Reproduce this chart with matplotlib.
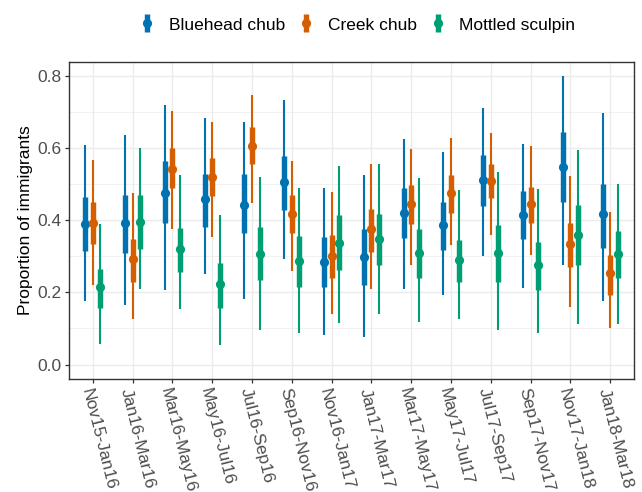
import matplotlib
matplotlib.use("Agg")
import matplotlib.pyplot as plt
from matplotlib.lines import Line2D
from matplotlib.legend_handler import HandlerTuple
import numpy as np

plt.rcParams['font.family'] = ['Liberation Sans', 'DejaVu Sans']

periods = ["Nov15-Jan16", "Jan16-Mar16", "Mar16-May16", "May16-Jul16", "Jul16-Sep16",
           "Sep16-Nov16", "Nov16-Jan17", "Jan17-Mar17", "Mar17-May17", "May17-Jul17",
           "Jul17-Sep17", "Sep17-Nov17", "Nov17-Jan18", "Jan18-Mar18"]
species = ["Bluehead chub", "Creek chub", "Mottled sculpin"]
colors = ["#0072B2", "#D55E00", "#009E73"]

# Bluehead chub
blue_med = [0.390, 0.391, 0.476, 0.458, 0.443, 0.505, 0.285, 0.298, 0.421, 0.386, 0.510, 0.415, 0.547, 0.416]
blue_lo50 = [0.315, 0.308, 0.391, 0.382, 0.363, 0.427, 0.215, 0.219, 0.351, 0.317, 0.440, 0.349, 0.451, 0.322]
blue_hi50 = [0.463, 0.469, 0.565, 0.529, 0.529, 0.579, 0.354, 0.375, 0.490, 0.451, 0.580, 0.482, 0.643, 0.500]
blue_lo95 = [0.177, 0.166, 0.206, 0.250, 0.182, 0.293, 0.081, 0.077, 0.210, 0.192, 0.301, 0.213, 0.275, 0.175]
blue_hi95 = [0.607, 0.636, 0.719, 0.684, 0.672, 0.734, 0.489, 0.525, 0.625, 0.589, 0.710, 0.611, 0.798, 0.698]

# Creek chub
creek_med = [0.391, 0.292, 0.543, 0.520, 0.606, 0.417, 0.302, 0.376, 0.444, 0.475, 0.508, 0.445, 0.334, 0.253]
creek_lo50 = [0.333, 0.229, 0.488, 0.467, 0.556, 0.365, 0.241, 0.313, 0.390, 0.421, 0.461, 0.391, 0.269, 0.194]
creek_hi50 = [0.450, 0.349, 0.599, 0.573, 0.658, 0.469, 0.358, 0.432, 0.498, 0.524, 0.556, 0.493, 0.393, 0.303]
creek_lo95 = [0.219, 0.127, 0.376, 0.354, 0.448, 0.260, 0.140, 0.210, 0.277, 0.332, 0.358, 0.303, 0.159, 0.102]
creek_hi95 = [0.566, 0.476, 0.703, 0.673, 0.747, 0.564, 0.477, 0.555, 0.596, 0.628, 0.642, 0.605, 0.522, 0.423]

# Mottled sculpin
sculpin_med = [0.215, 0.396, 0.321, 0.223, 0.307, 0.287, 0.336, 0.347, 0.310, 0.290, 0.309, 0.277, 0.359, 0.306]
sculpin_lo50 = [0.158, 0.319, 0.256, 0.157, 0.233, 0.216, 0.261, 0.277, 0.241, 0.228, 0.230, 0.206, 0.277, 0.241]
sculpin_hi50 = [0.266, 0.469, 0.378, 0.281, 0.380, 0.356, 0.413, 0.416, 0.375, 0.346, 0.386, 0.340, 0.443, 0.369]
sculpin_lo95 = [0.056, 0.209, 0.155, 0.054, 0.095, 0.087, 0.114, 0.140, 0.117, 0.127, 0.096, 0.087, 0.113, 0.113]
sculpin_hi95 = [0.389, 0.601, 0.525, 0.414, 0.519, 0.488, 0.550, 0.555, 0.516, 0.483, 0.533, 0.485, 0.594, 0.499]

series = [
    (blue_med, blue_lo50, blue_hi50, blue_lo95, blue_hi95),
    (creek_med, creek_lo50, creek_hi50, creek_lo95, creek_hi95),
    (sculpin_med, sculpin_lo50, sculpin_hi50, sculpin_lo95, sculpin_hi95),
]

fig = plt.figure(figsize=(6.42, 4.92), dpi=100)
ax = fig.add_axes([69/642, 1-379/492, (634-69)/642, (379-62)/492])

x = np.arange(len(periods))
offsets = [-0.19, 0.0, 0.19]
for (med, lo50, hi50, lo95, hi95), col, off in zip(series, colors, offsets):
    xs = x + off
    ax.vlines(xs, lo95, hi95, color=col, lw=1.5, zorder=3)
    ax.vlines(xs, lo50, hi50, color=col, lw=3.9, zorder=4)
    ax.plot(xs, med, 'o', color=col, ms=6.6, zorder=5, markeredgewidth=0)

ax.set_xlim(-0.6, len(periods) - 1 + 0.6)
ax.set_ylim(-0.04, 0.838)
ax.set_yticks([0.0, 0.2, 0.4, 0.6, 0.8])
ax.set_yticklabels(["0.0", "0.2", "0.4", "0.6", "0.8"])
ax.set_yticks([0.1, 0.3, 0.5, 0.7], minor=True)
ax.set_xticks(x)
ax.set_xticklabels(periods, rotation=-76, rotation_mode='anchor', ha='left', va='top')

ax.grid(which='major', color='#EBEBEB', lw=1.0, zorder=0)
ax.grid(which='minor', axis='y', color='#EBEBEB', lw=0.5, zorder=0)
ax.set_axisbelow(True)
for s in ax.spines.values():
    s.set_color('#333333')
    s.set_linewidth(1.0)
ax.tick_params(axis='both', which='major', color='#333333', length=3.0, width=0.9,
               labelsize=12.5, labelcolor='#4D4D4D', pad=2.5)
ax.tick_params(axis='y', which='minor', length=0)
ax.set_ylabel("Proportion of immigrants", fontsize=12.5, color='black', labelpad=3)

handles = []
for col in colors:
    h1 = Line2D([], [], color=col, marker='|', linestyle='None', ms=13, mew=3.9)
    h2 = Line2D([], [], color=col, marker='o', linestyle='None', ms=6.6, mew=0)
    handles.append((h1, h2))
fig.legend(handles, species, handler_map={tuple: HandlerTuple(ndivide=1)},
           loc='center', bbox_to_anchor=(357/642, 1-25/492), ncol=3, frameon=False,
           fontsize=12.5, handlelength=1.0, handletextpad=0.75, columnspacing=0.7)

fig.savefig("out.png", dpi=100)
